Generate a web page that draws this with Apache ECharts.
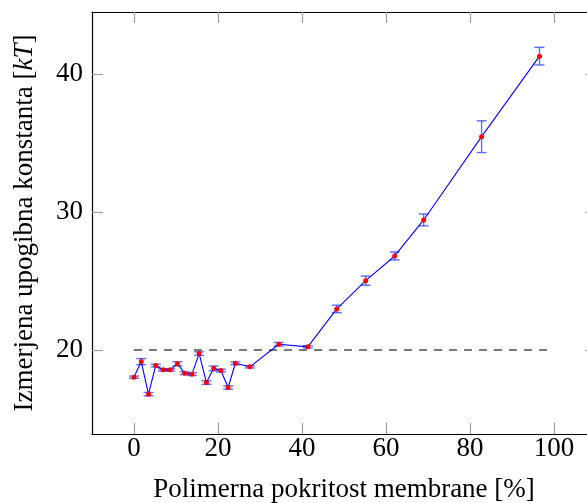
<!DOCTYPE html>
<html lang="sl">
<head>
    <meta charset="UTF-8">
    <title>Upogibna konstanta</title>
    <script src="https://cdn.jsdelivr.net/npm/echarts@6/dist/echarts.min.js" type="text/javascript"></script>
    <style>
        html, body { margin: 0; padding: 0; background: #fff; }
    </style>
</head>
<body>
<div id="chart" style="width: 587px;height: 503px;"></div>
<script>
    // pokritost [%]
    var coverage = [0, 1.72, 3.45, 5.17, 6.90, 8.62, 10.34, 12.07, 13.79, 15.52, 17.24, 18.97,
        20.69, 22.41, 24.14, 27.59, 34.48, 41.38, 48.28, 55.17, 62.07, 68.97, 82.76, 96.55];
    // izmerjena konstanta [kT]
    var kappa = [18.02, 19.15, 16.79, 18.86, 18.55, 18.55, 18.99, 18.31, 18.24, 19.73, 17.63, 18.66,
        18.50, 17.27, 19.03, 18.77, 20.41, 20.22, 22.97, 25.02, 26.81, 29.42, 35.46, 41.30];
    // napake
    var kappaErr = [0.08, 0.22, 0.12, 0.10, 0.08, 0.08, 0.15, 0.10, 0.10, 0.13, 0.13, 0.17,
        0.10, 0.12, 0.10, 0.08, 0.13, 0.08, 0.27, 0.33, 0.29, 0.43, 1.15, 0.64];
    // referencna vrednost
    var refLine = [[0, 20], [100, 20]];

    var xTicks = [0, 20, 40, 60, 80, 100];
    var yTicks = [20, 30, 40];

    var font = 'Liberation Serif';

    var points = [];
    var bars = [];
    for (var i = 0; i < coverage.length; i++) {
        points.push([coverage[i], kappa[i]]);
        bars.push([coverage[i], kappa[i] - kappaErr[i], kappa[i] + kappaErr[i]]);
    }

    function xAxisCfg(pos, show) {
        return {
            type: 'value', position: pos, min: -10, max: 110,
            axisLine: {show: true, onZero: false, lineStyle: {color: '#000', width: 1.2}},
            axisTick: {show: true, inside: true, length: 11, customValues: xTicks, lineStyle: {color: '#a0a0a0', width: 1.2}},
            axisLabel: {show: show, customValues: xTicks, margin: 1, color: '#000', fontFamily: font, fontSize: 27},
            splitLine: {show: false}
        };
    }
    function yAxisCfg(pos, show) {
        return {
            type: 'value', position: pos, min: 13.9, max: 44.5,
            axisLine: {show: true, onZero: false, lineStyle: {color: '#000', width: 1.2}},
            axisTick: {show: true, inside: true, length: 11, customValues: yTicks, lineStyle: {color: '#a0a0a0', width: 1.2}},
            axisLabel: {show: show, customValues: yTicks, margin: 9, color: '#000', fontFamily: font, fontSize: 27},
            splitLine: {show: false}
        };
    }

    var xBottom = xAxisCfg('bottom', true);
    xBottom.name = 'Polimerna pokritost membrane [%]';
    xBottom.nameLocation = 'middle';
    xBottom.nameGap = 42;
    xBottom.nameTextStyle = {color: '#000', fontFamily: font, fontSize: 27};

    var yLeft = yAxisCfg('left', true);
    yLeft.name = 'Izmerjena upogibna konstanta [{i|kT}]';
    yLeft.nameLocation = 'middle';
    yLeft.nameGap = 54;
    yLeft.nameTextStyle = {
        color: '#000', fontFamily: font, fontSize: 27,
        rich: {i: {fontStyle: 'italic', fontFamily: font, fontSize: 27, color: '#000'}}
    };

    var chart = echarts.init(document.getElementById('chart'));
    chart.setOption({
        animation: false,
        grid: {left: 92, top: 12, width: 504, bottom: 69, containLabel: false, outerBoundsMode: 'none'},
        xAxis: [xBottom, xAxisCfg('top', false)],
        yAxis: [yLeft, yAxisCfg('right', false)],
        series: [
            {
                type: 'line',
                data: refLine,
                symbol: 'none',
                lineStyle: {color: '#7a7a7a', width: 2, type: [8, 7]},
                z: 1
            },
            {
                type: 'custom',
                data: bars,
                renderItem: function (params, api) {
                    var x = api.value(0);
                    var lo = api.coord([x, api.value(1)]);
                    var hi = api.coord([x, api.value(2)]);
                    var w = 5;
                    var style = {stroke: 'rgba(40,60,255,0.75)', lineWidth: 1.4};
                    return {
                        type: 'group',
                        children: [
                            {type: 'line', shape: {x1: lo[0], y1: lo[1], x2: hi[0], y2: hi[1]}, style: style},
                            {type: 'line', shape: {x1: lo[0] - w, y1: lo[1], x2: lo[0] + w, y2: lo[1]}, style: style},
                            {type: 'line', shape: {x1: hi[0] - w, y1: hi[1], x2: hi[0] + w, y2: hi[1]}, style: style}
                        ]
                    };
                },
                z: 2
            },
            {
                type: 'line',
                data: points,
                symbol: 'circle',
                symbolSize: 5,
                itemStyle: {color: '#ff0000'},
                lineStyle: {color: '#0000ff', width: 1.1},
                z: 3
            }
        ]
    });
</script>
</body>
</html>
